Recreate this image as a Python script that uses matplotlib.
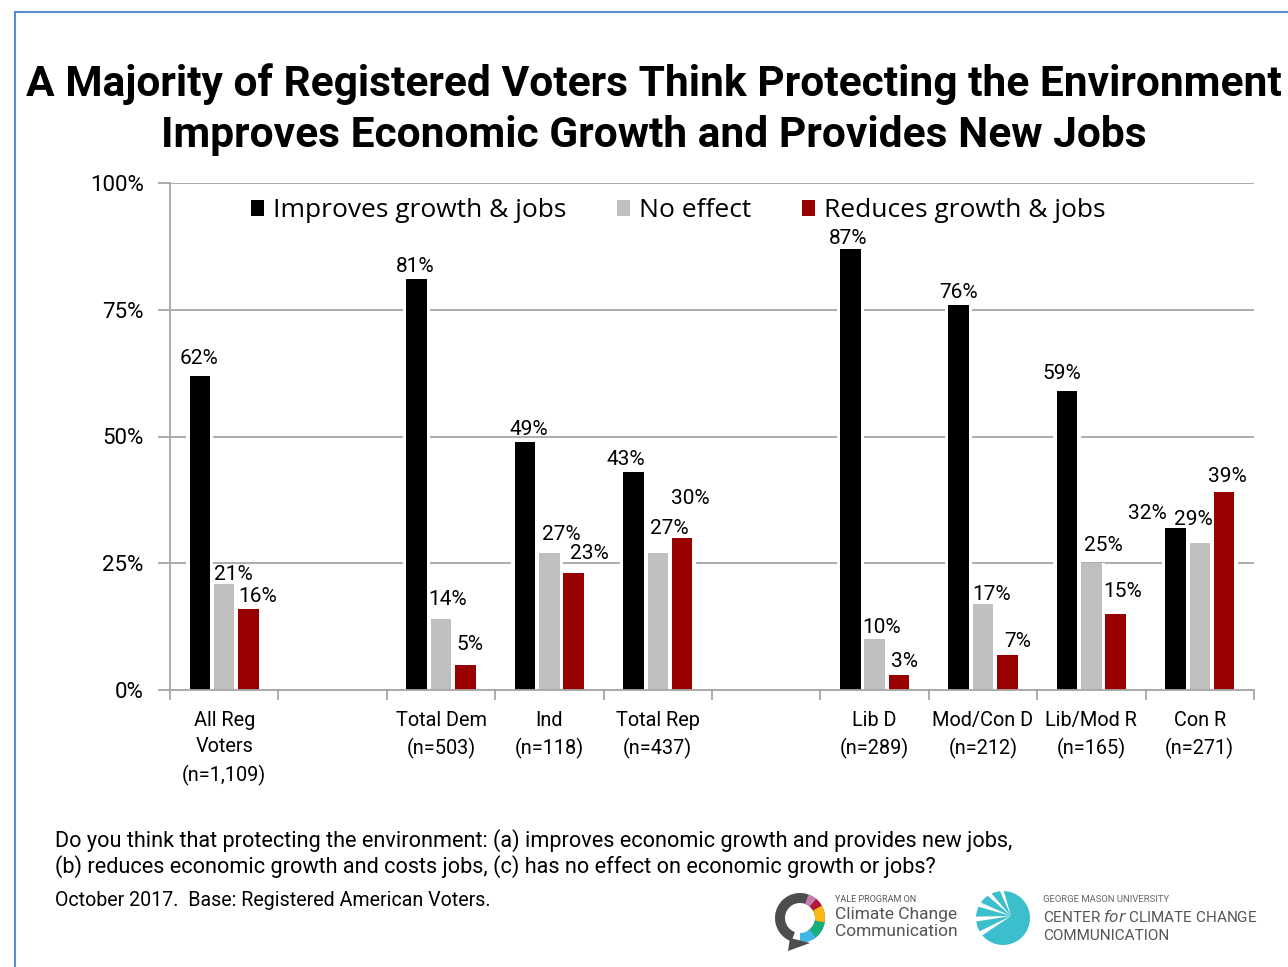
import matplotlib
matplotlib.use("Agg")
import matplotlib.pyplot as plt
import numpy as np
from matplotlib.patches import Wedge, Circle, Polygon
from matplotlib.lines import Line2D

plt.rcParams['font.family'] = ['Roboto', 'DejaVu Sans']

categories = ["All Reg\nVoters\n(n=1,109)", "Total Dem\n(n=503)", "Ind\n(n=118)", "Total Rep\n(n=437)",
              "Lib D\n(n=289)", "Mod/Con D\n(n=212)", "Lib/Mod R\n(n=165)", "Con R\n(n=271)"]
slots = [0, 2, 3, 4, 6, 7, 8, 9]
improves = [62, 81, 49, 43, 87, 76, 59, 32]
no_effect = [21, 14, 27, 27, 10, 17, 25, 29]
reduces = [16, 5, 23, 30, 3, 7, 15, 39]
series_names = ["Improves growth & jobs", "No effect", "Reduces growth & jobs"]
colors = ["#000000", "#bfbfbf", "#990000"]
yticks = [0, 25, 50, 75, 100]

# label placement offsets (pixels) relative to bar top-center: (dx, dy)
label_dx = [[-1, -1, 4, -8, -2, 0, -5, -28],
            [9, 7, 12, 12, 7, 9, 12, -6],
            [9, 5, 16, 8, 6, 10, 7, 3]]
label_dy = [[17, 13, 12, 12, 10, 12, 17, 14],
            [9, 20, 19, 25, 12, 9, 18, 23],
            [12, 20, 20, 39, 13, 13, 22, 16]]

W, H = 1288, 967
fig = plt.figure(figsize=(W/100, H/100), dpi=100)
ax = fig.add_axes([170/W, 1-690/H, (1254-170)/W, (690-183)/H])

x = np.array(slots, dtype=float)
bw = 0.19
offs = [-0.225, 0.0, 0.225]
handles = []
for k, (vals, off, c, name) in enumerate(zip([improves, no_effect, reduces], offs, colors, series_names)):
    ax.bar(x + off, vals, width=bw + 0.06, color="white", zorder=2.5)
    b = ax.bar(x + off, vals, width=bw, color=c, zorder=3, label=name)
    handles.append(b)
    for i, (xi, v) in enumerate(zip(x + off, vals)):
        ax.annotate(f"{v}%", xy=(xi, v), xytext=(label_dx[k][i], label_dy[k][i]),
                    textcoords="offset pixels", ha="center", va="center",
                    fontsize=15, color="black", zorder=4)

ax.set_xlim(-0.5, 9.5)
ax.set_ylim(0, 100)
ax.set_yticks(yticks)
ax.set_yticklabels([f"{t}%" for t in yticks], fontsize=16)
ax.yaxis.grid(True, color="#a6a6a6", linewidth=1.3, zorder=0)
ax.set_axisbelow(True)
ax.set_xticks(slots)
ax.set_xticklabels(categories, fontsize=14.3, linespacing=1.5)
ax.tick_params(axis="x", length=0, pad=15)
ax.set_xticks(np.arange(-0.5, 10.0, 1.0), minor=True)
ax.tick_params(axis="x", which="minor", length=7, color="#a6a6a6", width=1.3)
ax.tick_params(axis="y", length=9, color="#a6a6a6", width=1.3, pad=10)
for s in ["top", "right"]:
    ax.spines[s].set_visible(False)
for s in ["left", "bottom"]:
    ax.spines[s].set_color("#a6a6a6")
    ax.spines[s].set_linewidth(1.3)
ax.spines["bottom"].set_zorder(5)

leg = ax.legend(handles=handles, labels=series_names, loc="center", bbox_to_anchor=(0.469, 0.945),
                ncol=3, frameon=False, prop={"family": "Open Sans", "size": 19},
                handlelength=0.5, handleheight=0.5, handletextpad=0.35, columnspacing=1.9)

# Title
fig.text(654/W, 1-84/H, "A Majority of Registered Voters Think Protecting the Environment",
         ha="center", va="center", fontsize=30.6, fontweight="bold")
fig.text(654/W, 1-135/H, "Improves Economic Growth and Provides New Jobs",
         ha="center", va="center", fontsize=30.6, fontweight="bold")

# Footer
fig.text(55/W, 1-841/H, "Do you think that protecting the environment: (a) improves economic growth and provides new jobs,",
         ha="left", va="center", fontsize=15.6)
fig.text(55/W, 1-867/H, "(b) reduces economic growth and costs jobs, (c) has no effect on economic growth or jobs?",
         ha="left", va="center", fontsize=15.6)
fig.text(55/W, 1-901/H, "October 2017.  Base: Registered American Voters.",
         ha="left", va="center", fontsize=14.1)

# Border
fig.add_artist(Line2D([15/W, 15/W], [0, 1-12/H], color="#5b8bd0", linewidth=1.5, transform=fig.transFigure))
fig.add_artist(Line2D([15/W, 1], [1-12/H, 1-12/H], color="#5b8bd0", linewidth=1.5, transform=fig.transFigure))

# Logos (approximate)
lax = fig.add_axes([0, 0, 1, 1], zorder=-1)
lax.set_xlim(0, W)
lax.set_ylim(H, 0)
lax.axis("off")
cx, cy = 800, 918
lax.add_patch(Wedge((cx, cy), 25, 110, 420, width=10, facecolor="#4d4d4f", edgecolor="none"))
seg_cols = ["#3fb8e6", "#16b07f", "#fbb917", "#b4193a", "#c77fb1"]
angs = [90, 50, 10, -30, -50, -70]
for i, c in enumerate(seg_cols):
    lax.add_patch(Wedge((cx, cy), 25, angs[i+1], angs[i], width=10, facecolor=c, edgecolor="none"))
lax.add_patch(Polygon([[cx-10, cy+20], [cx+10, cy+25], [cx-12, cy+33]], closed=True, facecolor="#4d4d4f", edgecolor="none"))
lax.text(835, 900, "YALE PROGRAM ON", fontsize=6.5, color="#555555", va="center", ha="left")
lax.text(835, 915, "Climate Change", fontsize=12.5, color="#555555", va="center", ha="left")
lax.text(835, 932, "Communication", fontsize=12.5, color="#555555", va="center", ha="left")
tx, ty = 1003, 918
lax.add_patch(Circle((tx, ty), 27, facecolor="#3cbfcc", edgecolor="none"))
for a in [150, 175, 200, 225, 250]:
    lax.add_patch(Wedge((tx + 8, ty - 2), 36, a - 4, a + 4, facecolor="white", edgecolor="none"))
lax.text(1043, 899, "GEORGE MASON UNIVERSITY", fontsize=6.8, color="#666666", va="center", ha="left")
lax.text(1043, 917, "CENTER $\\it{for}$ CLIMATE CHANGE", fontsize=11, color="#555555", va="center", ha="left")
lax.text(1043, 936, "COMMUNICATION", fontsize=11, color="#555555", va="center", ha="left")

fig.savefig("out.png", dpi=100)
